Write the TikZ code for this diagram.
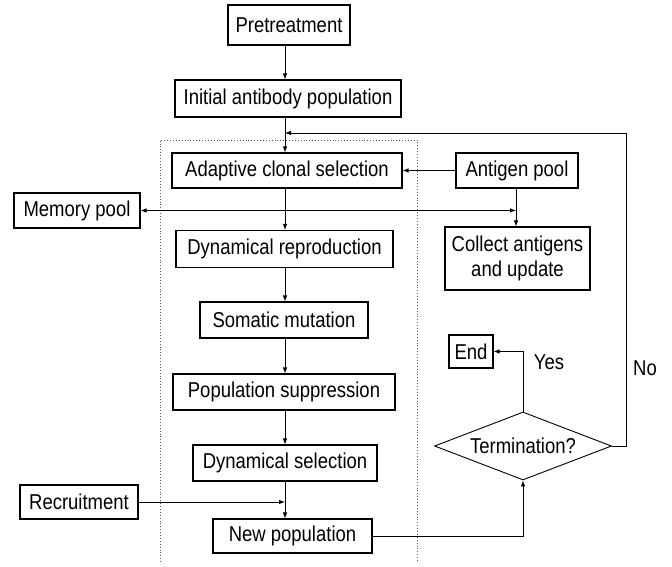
\documentclass[tikz,border=0pt]{standalone}
\usepackage{fontspec}
\setmainfont{Liberation Sans}[FakeStretch=0.86]
\usetikzlibrary{shapes.geometric,arrows.meta,calc}
\begin{document}
\begin{tikzpicture}[x=1pt,y=-1pt,
  box/.style={draw,line width=1.1pt,inner sep=0pt,align=center,font=\fontsize{21.5}{25}\selectfont},
  arr/.style={line width=0.8pt,-{Latex[length=6pt,width=4.5pt]}},
  ln/.style={line width=0.8pt},
  lbl/.style={font=\fontsize{21.5}{25}\selectfont}]
\useasboundingbox (0,0) rectangle (672,567);
\coordinate (X) at (285,0);
% dotted frame
\draw[dotted,line width=0.9pt,gray!70!black] (160,562) -- (160,140) -- (417,140) -- (417,562);
% nodes
\node[box,minimum width=122pt,minimum height=40pt] (pre) at (289,25) {Pretreatment};
\node[box,minimum width=226pt,minimum height=37pt] (init) at (288,98.5) {Initial antibody population};
\node[box,minimum width=230pt,minimum height=35pt] (acs) at (287,170.5) {Adaptive clonal selection};
\node[box,minimum width=122pt,minimum height=35pt] (ag) at (517,170.5) {Antigen pool};
\node[box,minimum width=126pt,minimum height=35pt] (mem) at (77,210.5) {Memory pool};
\node[box,minimum width=217pt,minimum height=37pt] (dr) at (284.5,249) {Dynamical reproduction};
\node[box,minimum width=145pt,minimum height=63pt] (col) at (517.5,258.5) {Collect antigens\\and update};
\node[box,minimum width=168pt,minimum height=36pt] (sm) at (284,320) {Somatic mutation};
\node[box,minimum width=222pt,minimum height=36pt] (ps) at (284,392) {Population suppression};
\node[box,minimum width=184pt,minimum height=36pt] (ds) at (285,463) {Dynamical selection};
\node[box,minimum width=118pt,minimum height=34pt] (rec) at (79,502) {Recruitment};
\node[box,minimum width=159pt,minimum height=34pt] (np) at (292.5,536) {New population};
\node[box,minimum width=44pt,minimum height=33pt] (end) at (471,351.5) {End};
\node[box,diamond,minimum width=177pt,minimum height=68pt,line width=0.9pt] (term) at (523,446) {};
\node[lbl] (termt) at (523,446) {Termination?};
\node[lbl] (yes) at (549,362) {Yes};
\node[lbl] (no) at (645,368) {No};
% coordinates
\coordinate (noc) at (626,133);
\coordinate (memj) at (516,210.5);
% main spine
\draw[arr] (pre.south -| X) -- (init.north -| X);
\draw[arr] (init.south -| X) -- (acs.north -| X);
\draw[arr] (acs.south -| X) -- (dr.north -| X);
\draw[arr] (dr.south -| X) -- (sm.north -| X);
\draw[arr] (sm.south -| X) -- (ps.north -| X);
\draw[arr] (ps.south -| X) -- (ds.north -| X);
\draw[arr] (ds.south -| X) -- (np.north -| X);
% antigen
\draw[arr] (ag.west) -- (acs.east);
\draw[arr] (ag.south -| memj) -- (col.north -| memj);
\draw[ln,{Latex[length=6pt,width=4.5pt]}-{Latex[length=6pt,width=4.5pt]}] (mem.east) -- (memj);
% recruitment
\draw[arr] (rec.east) -- (rec.east -| X);
% new population to termination
\draw[arr] (np.east) -| (term.south);
% yes
\draw[arr] (term.north) |- (end.east);
% no
\draw[arr] (term.east) -| (noc) -- (noc -| X);
\end{tikzpicture}
\end{document}
